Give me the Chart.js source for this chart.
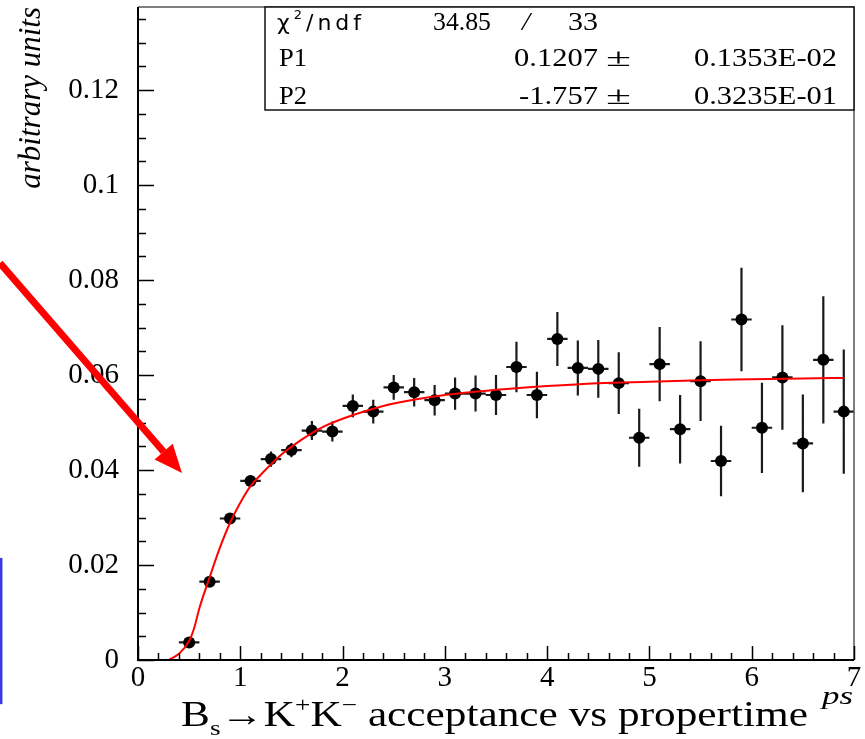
<!DOCTYPE html>
<html>
<head>
<meta charset="utf-8">
<script src="https://cdn.jsdelivr.net/npm/chart.js@4.4.1/dist/chart.umd.min.js"></script>
<style>
  html, body { margin: 0; padding: 0; background: #fff; }
  canvas { display: block; }
</style>
</head>
<body>
<canvas id="acceptance" width="865" height="739"></canvas>
<script>
// bin centres (ps) and measured acceptance
var properTime = [0.5, 0.7, 0.9, 1.1, 1.3, 1.5, 1.7, 1.9, 2.1, 2.3,
                  2.5, 2.7, 2.9, 3.1, 3.3, 3.5, 3.7, 3.9, 4.1, 4.3,
                  4.5, 4.7, 4.9, 5.1, 5.3, 5.5, 5.7, 5.9, 6.1, 6.3,
                  6.5, 6.7, 6.9];
var acceptance = [0.0037, 0.0165, 0.0298, 0.0377, 0.0423, 0.0442, 0.0483, 0.0481, 0.0535, 0.0523,
                  0.0574, 0.0564, 0.0547, 0.0561, 0.0561, 0.0558, 0.0617, 0.0558, 0.0676, 0.0615,
                  0.0613, 0.0583, 0.0468, 0.0623, 0.0486, 0.0587, 0.0419, 0.0717, 0.0489, 0.0595,
                  0.0456, 0.0632, 0.0523];
var acceptanceErr = [0.0003, 0.0006, 0.0008, 0.0010, 0.0016, 0.0015, 0.0020, 0.0021, 0.0024, 0.0025,
                     0.0026, 0.0030, 0.0032, 0.0034, 0.0038, 0.0042, 0.0053, 0.0049, 0.0057, 0.0058,
                     0.0061, 0.0065, 0.0061, 0.0078, 0.0072, 0.0084, 0.0074, 0.0109, 0.0095, 0.0110,
                     0.0103, 0.0134, 0.0131];
var binHalfWidth = 0.1;

// fitted curve
var fitTime = [0.3, 0.4, 0.5, 0.55, 0.6, 0.7, 0.8, 0.9, 1.0, 1.1, 1.2, 1.4, 1.6, 1.8, 2.0,
               2.25, 2.5, 3.0, 3.5, 4.0, 4.5, 5.0, 5.5, 6.0, 6.5, 6.9];
var fitValue = [0, 0.0013, 0.0040, 0.0068, 0.0109, 0.0174, 0.0236, 0.0289, 0.0331, 0.0366, 0.0390,
                0.0432, 0.0464, 0.0490, 0.0508, 0.0526, 0.0540, 0.0558, 0.0569, 0.0577, 0.0583,
                0.0586, 0.0589, 0.0591, 0.0593, 0.0594];

// axis ticks
var xTicks = [0, 1, 2, 3, 4, 5, 6, 7];
var yTicks = [0, 0.02, 0.04, 0.06, 0.08, 0.1, 0.12];

// fit result box
var statRows = [
    ['34.85', '/', '33'],
    ['P1', '0.1207', '±', '0.1353E-02'],
    ['P2', '-1.757', '±', '0.3235E-01']
];

// slide annotations, in axis units
var arrowFrom = [-1.35, 0.0836];
var arrowTo = [0.43, 0.0394];
var blueMark = [-1.34, 0.0215, -0.0093];

var SERIF = '"Liberation Serif", "Times New Roman", serif';
var SANS = '"DejaVu Sans", sans-serif';

// draw a row of text pieces, squeezed/stretched to a given width
function drawPieces(ctx, pieces, x, base, width) {
    var total = 0;
    pieces.forEach(function (p) {
        ctx.font = p.font;
        p.w = ctx.measureText(p.t).width;
        total += p.w;
    });
    ctx.save();
    ctx.translate(x, base);
    ctx.scale(width ? width / total : 1, 1);
    var cx = 0;
    pieces.forEach(function (p) {
        ctx.font = p.font;
        ctx.fillText(p.t, cx, p.dy || 0);
        cx += p.w;
    });
    ctx.restore();
}

function fitText(ctx, txt, x, base, width, font) {
    drawPieces(ctx, [{t: txt, font: font}], x, base, width);
}

var decor = {
    id: 'rootStyle',
    beforeDatasetsDraw: function (chart) {
        var ctx = chart.ctx, xs = chart.scales.x, ys = chart.scales.y;
        ctx.save();
        ctx.strokeStyle = '#1a1a1a';
        ctx.lineWidth = 2.2;
        ctx.beginPath();
        for (var i = 0; i < properTime.length; i++) {
            var px = xs.getPixelForValue(properTime[i]);
            var py = ys.getPixelForValue(acceptance[i]);
            ctx.moveTo(xs.getPixelForValue(properTime[i] - binHalfWidth), py);
            ctx.lineTo(xs.getPixelForValue(properTime[i] + binHalfWidth), py);
            ctx.moveTo(px, ys.getPixelForValue(acceptance[i] - acceptanceErr[i]));
            ctx.lineTo(px, ys.getPixelForValue(acceptance[i] + acceptanceErr[i]));
        }
        ctx.stroke();
        ctx.restore();
    },
    afterDraw: function (chart) {
        var ctx = chart.ctx, a = chart.chartArea;
        var xs = chart.scales.x, ys = chart.scales.y;
        ctx.save();

        // frame
        ctx.strokeStyle = '#555';
        ctx.lineWidth = 1.5;
        ctx.beginPath();
        ctx.moveTo(a.left, a.top);
        ctx.lineTo(a.right, a.top);
        ctx.lineTo(a.right, a.bottom);
        ctx.stroke();
        ctx.strokeStyle = '#000';
        ctx.lineWidth = 2;
        ctx.beginPath();
        ctx.moveTo(a.left, a.top);
        ctx.lineTo(a.left, a.bottom);
        ctx.lineTo(a.right, a.bottom);
        ctx.stroke();

        // inward ticks
        ctx.lineWidth = 1.5;
        ctx.beginPath();
        for (var i = 0; i <= 27; i++) {
            var py = Math.round(ys.getPixelForValue(i * 0.005)) + 0.5;
            ctx.moveTo(a.left, py);
            ctx.lineTo(a.left + (i % 4 === 0 ? 16 : 8), py);
        }
        for (var j = 0; j <= 35; j++) {
            var px = Math.round(xs.getPixelForValue(j * 0.2)) + 0.5;
            ctx.moveTo(px, a.bottom);
            ctx.lineTo(px, a.bottom - (j % 5 === 0 ? 14 : 7));
        }
        ctx.stroke();

        // stats box
        var bx = a.left + 127, by = a.top, bw = a.right - bx, bh = 103;
        ctx.fillStyle = '#fff';
        ctx.fillRect(bx, by, bw, bh);
        ctx.strokeStyle = '#111';
        ctx.lineWidth = 1.5;
        ctx.strokeRect(bx, by, bw, bh);
        ctx.fillStyle = '#000';
        var f = '26px ' + SERIF;
        ctx.save();
        ctx.letterSpacing = '4px';
        drawPieces(ctx, [
            {t: 'χ', font: '22px ' + SANS},
            {t: '2', font: '13px ' + SANS, dy: -11},
            {t: '/ndf', font: '22px ' + SANS}
        ], bx + 12, by + 23, 0);
        ctx.restore();
        fitText(ctx, statRows[0][0], bx + 168, by + 23, 58, f);
        fitText(ctx, statRows[0][1], bx + 257, by + 23, 8, 'italic ' + f);
        fitText(ctx, statRows[0][2], bx + 303, by + 23, 30, f);
        for (var r = 1; r < 3; r++) {
            var base = by + 21 + r * 38;
            fitText(ctx, statRows[r][0], bx + 14, base, 28, f);
            var vw = r === 1 ? 84 : 79;
            fitText(ctx, statRows[r][1], bx + 333 - vw, base, vw, f);
            fitText(ctx, statRows[r][2], bx + 341, base, 25, f);
            fitText(ctx, statRows[r][3], bx + 429, base, 143, f);
        }

        // x-axis title
        var big = '35px ' + SERIF, small = '22px ' + SERIF;
        drawPieces(ctx, [
            {t: 'B', font: big},
            {t: 's', font: small, dy: 9},
            {t: '→', font: big},
            {t: 'K', font: big},
            {t: '+', font: small, dy: -14},
            {t: 'K', font: big},
            {t: '−', font: small, dy: -14},
            {t: ' acceptance vs propertime', font: big}
        ], 181, 726, 627);
        fitText(ctx, 'ps', 822, 704, 31, 'italic 26px ' + SERIF);

        // red arrow
        var x0 = xs.getPixelForValue(arrowFrom[0]), y0 = ys.getPixelForValue(arrowFrom[1]);
        var x1 = xs.getPixelForValue(arrowTo[0]), y1 = ys.getPixelForValue(arrowTo[1]);
        var ang = Math.atan2(y1 - y0, x1 - x0), hl = 28, hw = 12;
        var bxa = x1 - hl * Math.cos(ang), bya = y1 - hl * Math.sin(ang);
        ctx.strokeStyle = '#ff0000';
        ctx.fillStyle = '#ff0000';
        ctx.lineWidth = 7;
        ctx.beginPath();
        ctx.moveTo(x0, y0);
        ctx.lineTo(bxa, bya);
        ctx.stroke();
        ctx.beginPath();
        ctx.moveTo(x1, y1);
        ctx.lineTo(bxa + hw * Math.sin(ang), bya - hw * Math.cos(ang));
        ctx.lineTo(bxa - hw * Math.sin(ang), bya + hw * Math.cos(ang));
        ctx.closePath();
        ctx.fill();

        // blue edge of a neighbouring slide box
        ctx.strokeStyle = '#3a3ae0';
        ctx.lineWidth = 3;
        ctx.beginPath();
        var bxl = xs.getPixelForValue(blueMark[0]);
        ctx.moveTo(bxl, ys.getPixelForValue(blueMark[1]));
        ctx.lineTo(bxl, ys.getPixelForValue(blueMark[2]));
        ctx.stroke();

        ctx.restore();
    }
};

var ctx = document.getElementById('acceptance').getContext('2d');

var fitPoints = fitTime.map(function (t, i) { return {x: t, y: fitValue[i]}; });
var dataPoints = properTime.map(function (t, i) { return {x: t, y: acceptance[i]}; });

var chart = new Chart(ctx, {
    type: 'scatter',
    data: {
        datasets: [{
            label: 'fit',
            type: 'line',
            data: fitPoints,
            borderColor: '#ff0000',
            borderWidth: 2,
            pointRadius: 0,
            fill: false,
            cubicInterpolationMode: 'monotone',
            order: 0
        }, {
            label: 'acceptance',
            data: dataPoints,
            pointRadius: 6,
            pointBackgroundColor: '#000',
            pointBorderColor: '#000',
            pointBorderWidth: 0,
            order: 1
        }]
    },
    options: {
        responsive: false,
        animation: false,
        devicePixelRatio: 1,
        layout: { padding: { top: 7, right: 11, left: 0, bottom: 0 } },
        plugins: {
            legend: { display: false },
            tooltip: { enabled: false }
        },
        scales: {
            x: {
                type: 'linear',
                min: 0,
                max: 7,
                afterBuildTicks: function (s) { s.ticks = xTicks.map(function (v) { return {value: v}; }); },
                ticks: {
                    color: '#000',
                    font: { family: SERIF, size: 29 },
                    padding: 1,
                    maxRotation: 0,
                    autoSkip: false
                },
                grid: { display: false, drawTicks: false },
                border: { display: false },
                afterFit: function (s) {
                    s.height = 79;
                    s.paddingLeft = 0;
                    s.paddingRight = 0;
                }
            },
            y: {
                min: 0,
                max: 0.1375,
                afterBuildTicks: function (s) { s.ticks = yTicks.map(function (v) { return {value: v}; }); },
                ticks: {
                    color: '#000',
                    font: { family: SERIF, size: 29 },
                    padding: 19,
                    autoSkip: false,
                    callback: function (v) { return String(+v.toFixed(4)); }
                },
                grid: { display: false, drawTicks: false },
                border: { display: false },
                title: {
                    display: true,
                    text: 'arbitrary units',
                    align: 'end',
                    color: '#000',
                    font: { family: SERIF, size: 31, style: 'italic' },
                    padding: { top: 13, bottom: 0 }
                },
                afterFit: function (s) {
                    s.width = 138;
                    s.paddingTop = 0;
                    s.paddingBottom = 0;
                }
            }
        }
    },
    plugins: [decor]
});
</script>
</body>
</html>
